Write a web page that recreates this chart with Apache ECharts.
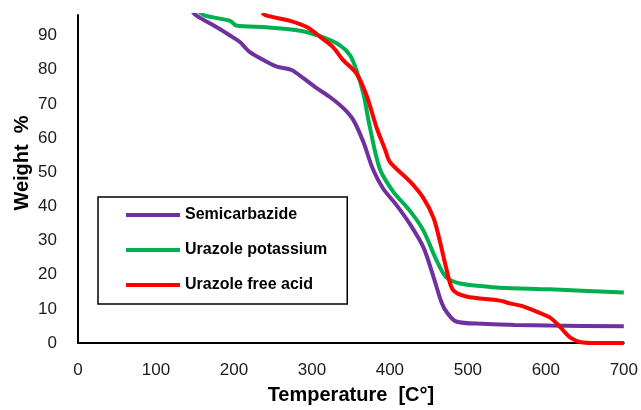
<!DOCTYPE html>
<html>
<head>
<meta charset="utf-8">
<script src="https://cdn.jsdelivr.net/npm/echarts@6/dist/echarts.min.js"></script>
<style>html,body{margin:0;padding:0;background:#fff}#c{width:641px;height:410px}</style>
</head>
<body>
<div id="c"></div>
<script>
var seriesNames = ['Semicarbazide', 'Urazole potassium', 'Urazole free acid'];
var xTicks = [0, 100, 200, 300, 400, 500, 600, 700];
var yTicks = [0, 10, 20, 30, 40, 50, 60, 70, 80, 90];

var semiT = [145, 152, 178, 195, 208, 220, 242, 255, 274, 289, 306, 323, 340, 353, 366, 378, 391, 408, 426, 443, 456, 466, 473, 485, 519, 560, 605, 700];
var semiW = [97.5, 95.8, 92.4, 90, 88, 85.2, 82.3, 80.9, 79.9, 77.5, 74.6, 72, 68.8, 65.3, 58.8, 51, 45.3, 40.5, 34.7, 28, 19.3, 12, 9, 6.3, 5.6, 5.3, 5.1, 4.9];

var potT = [155, 163, 195, 203, 242, 285, 314, 336, 349, 357, 366, 374, 387, 404, 426, 443, 460, 472, 490, 520, 541, 605, 700];
var potW = [97, 95.8, 94.3, 92.9, 92.4, 91.4, 89.5, 87.1, 84.2, 79.9, 73, 63.5, 51, 44.4, 38.6, 32.9, 24.1, 19.3, 17.4, 16.6, 16.2, 15.7, 14.8];

var acidT = [236, 242, 272, 294, 314, 327, 340, 357, 370, 383, 394, 400, 426, 443, 456, 464, 473, 481, 498, 541, 554, 570, 588, 605, 615, 623, 632, 645, 660, 700];
var acidW = [96.6, 95.8, 94.3, 92.4, 89, 86.6, 82.8, 78.9, 72.5, 63, 56.5, 53, 47.2, 42.4, 36.6, 29.9, 21.2, 15.5, 13.6, 12.4, 11.6, 10.8, 9.2, 7.5, 5.5, 3.5, 1.5, 0.2, 0, 0];

var colors = ['#7030A0', '#00B050', '#FF0000'];

function pairs(xs, ys) { return xs.map(function (x, i) { return [x, ys[i]]; }); }
var allData = [pairs(semiT, semiW), pairs(potT, potW), pairs(acidT, acidW)];

var FONT = '"Liberation Sans", Arial, sans-serif';
var chart = echarts.init(document.getElementById('c'), null, { renderer: 'canvas' });
chart.setOption({
  animation: false,
  grid: { left: 78, right: 17, top: 15, bottom: 63, containLabel: false },
  xAxis: {
    type: 'value', min: xTicks[0], max: xTicks[xTicks.length - 1], interval: 100,
    axisLine: { lineStyle: { color: '#000', width: 2 } },
    axisTick: { show: false }, splitLine: { show: false },
    axisLabel: { color: '#1a1a1a', fontSize: 17, fontFamily: FONT, margin: 19 },
    name: 'Temperature  [C°]', nameLocation: 'middle', nameGap: 42,
    nameTextStyle: { color: '#000', fontSize: 20, fontWeight: 'bold', fontFamily: FONT }
  },
  yAxis: {
    type: 'value', min: yTicks[0], max: 96, interval: 10,
    axisLine: { show: true, lineStyle: { color: '#000', width: 2 } },
    axisTick: { show: false }, splitLine: { show: false },
    axisLabel: { color: '#1a1a1a', fontSize: 17, fontFamily: FONT, margin: 21, showMaxLabel: false }
  },
  graphic: [{
    type: 'text', x: 22, y: 163, rotation: Math.PI / 2,
    style: { text: 'Weight  %', font: 'bold 20px ' + FONT, fill: '#000', textAlign: 'center', textVerticalAlign: 'middle' }
  }],
  legend: {
    orient: 'vertical', left: 98, top: 197,
    padding: [10, 20, 11, 28], itemGap: 19,
    itemWidth: 54, itemHeight: 4, icon: 'rect',
    borderColor: '#000', borderWidth: 1.5,
    textStyle: { color: '#000', fontSize: 16, fontWeight: 'bold', fontFamily: FONT },
    data: seriesNames
  },
  series: seriesNames.map(function (n, i) {
    return {
      name: n, type: 'line', data: allData[i], smooth: 0.3, showSymbol: false, symbol: 'none',
      lineStyle: { color: colors[i], width: 4 }, itemStyle: { color: colors[i] }, clip: true
    };
  })
});
</script>
</body>
</html>
